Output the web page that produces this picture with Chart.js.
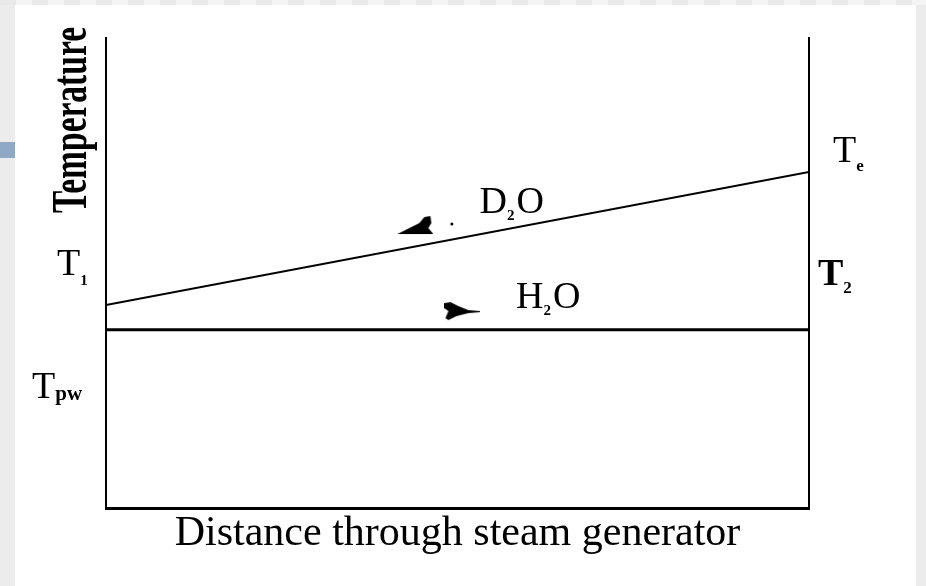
<!DOCTYPE html>
<html><head><meta charset="utf-8">
<script src="https://cdn.jsdelivr.net/npm/chart.js@4"></script>
<style>
html,body{margin:0;padding:0;width:926px;height:586px;overflow:hidden;background:#ececec;}
#panel{position:absolute;left:15px;top:5px;width:901px;height:581px;background:#fff;}
#topstrip{position:absolute;left:0;top:0;width:926px;height:5px;background:repeating-linear-gradient(90deg,#e9e9e9 0 16px,#f4f4f4 16px 32px);}
#tab{position:absolute;left:0;top:142px;width:15px;height:16px;background:#8ea8c6;}
#wrap{position:absolute;left:0;top:0;width:926px;height:586px;}
</style></head>
<body>
<div id="topstrip"></div><div id="panel"></div><div id="tab"></div>
<div id="wrap"><canvas id="c" width="926" height="586"></canvas></div>
<script>
// ---- data ----
const distance = [0, 1];                 // normalised distance through steam generator
const d2oTemp = [43.2, 71.5];            // D2O (primary) temperature
const h2oTemp = [37.9, 37.9];            // H2O (boiling) temperature
const leftTickValues = [52.2, 26.0];
const leftTickLabels = [['T', '1'], ['T', 'pw']];
const rightTickValues = [76.2, 50.1];
const rightTickLabels = [['T', 'e'], ['T', '2']];
const seriesLabels = [['D', '2', 'O'], ['H', '2', 'O']];
const seriesLabelX = [0.577, 0.629];
const seriesLabelY = [65.4, 45.3];
const flowArrowX = [0.440, 0.507];
const flowArrowY = [60.2, 41.9];
const dotX = [0.492];
const dotY = [60.4];
const xTitle = 'Distance through steam generator';
const yTitle = 'Temperature';

// ---- styles ----
const SERIF = '"Liberation Serif", "Times New Roman", serif';
const leftTickStyle = [
  {x: -49, sub: 'bold 15px ' + SERIF, dy: 10},
  {x: -74, sub: 'bold 21px ' + SERIF, dy: 2}
];
const rightTickStyle = [
  {x: 24, sub: 'bold 17px ' + SERIF, dy: 9},
  {x: 9, sub: 'bold 17px ' + SERIF, dy: 8, bold: true}
];

function arrowCanvas(dir) {
  const c = document.createElement('canvas');
  c.width = 36; c.height = 20;
  const g = c.getContext('2d');
  g.fillStyle = '#000';
  g.beginPath();
  if (dir === 'left') {
    g.moveTo(0, 19); g.lineTo(22, 8); g.lineTo(27, 2); g.lineTo(33, 1);
    g.lineTo(34, 8); g.lineTo(31, 13); g.lineTo(36, 19);
  } else {
    g.moveTo(0, 2); g.lineTo(6, 1); g.lineTo(14, 5); g.lineTo(24, 9);
    g.lineTo(36, 10); g.lineTo(36, 11); g.lineTo(24, 12); g.lineTo(12, 15);
    g.lineTo(4, 19); g.lineTo(1, 17); g.lineTo(4, 10); g.lineTo(0, 7);
  }
  g.closePath(); g.fill();
  return c;
}

function drawSub(ctx, parts, x, base, mainFont, subFont, dy, align) {
  ctx.font = mainFont;
  const w1 = ctx.measureText(parts[0]).width;
  ctx.font = subFont;
  const w2 = ctx.measureText(parts[1]).width;
  ctx.font = mainFont;
  const w3 = parts[2] ? ctx.measureText(parts[2]).width : 0;
  const total = w1 + w2 + w3 + 2;
  let sx = x;
  if (align === 'center') sx = x - total / 2;
  ctx.textAlign = 'left';
  ctx.textBaseline = 'alphabetic';
  ctx.font = mainFont; ctx.fillText(parts[0], sx, base);
  ctx.font = subFont; ctx.fillText(parts[1], sx + w1, base + dy);
  if (parts[2]) { ctx.font = mainFont; ctx.fillText(parts[2], sx + w1 + w2 + 2, base); }
}

const textPlugin = {
  id: 'textLabels',
  afterDraw(chart) {
    const {ctx, chartArea: a, scales: {x, y}} = chart;
    ctx.save();
    ctx.fillStyle = '#000';
    const mainFont = '38px ' + SERIF;
    const cap = 12.5;
    leftTickValues.forEach((v, i) => {
      const st = leftTickStyle[i];
      drawSub(ctx, leftTickLabels[i], a.left + st.x, y.getPixelForValue(v) + cap, mainFont, st.sub, st.dy, 'left');
    });
    rightTickValues.forEach((v, i) => {
      const st = rightTickStyle[i];
      drawSub(ctx, rightTickLabels[i], a.right + st.x, y.getPixelForValue(v) + cap,
        (st.bold ? 'bold ' : '') + mainFont, st.sub, st.dy, 'left');
    });
    seriesLabels.forEach((p, i) => {
      drawSub(ctx, p, x.getPixelForValue(seriesLabelX[i]), y.getPixelForValue(seriesLabelY[i]) + cap,
        mainFont, 'bold 15px ' + SERIF, 7, 'center');
    });
    // x title
    ctx.font = '42px ' + SERIF;
    ctx.textAlign = 'center';
    ctx.textBaseline = 'alphabetic';
    ctx.fillText(xTitle, (a.left + a.right) / 2, a.bottom + 37);
    // y title (rotated, bold, condensed)
    ctx.save();
    ctx.translate(a.left - 33, a.top + 82);
    ctx.rotate(-Math.PI / 2);
    ctx.scale(0.67, 1);
    ctx.font = 'bold 50px ' + SERIF;
    ctx.textBaseline = 'middle';
    ctx.textAlign = 'center';
    ctx.fillText(yTitle, 0, 0);
    ctx.restore();
    ctx.restore();
  }
};

const toPts = (xs, ys) => xs.map((v, i) => ({x: v, y: ys[i]}));

new Chart(document.getElementById('c'), {
  type: 'line',
  data: {
    datasets: [
      {label: 'D2O', data: toPts(distance, d2oTemp), borderColor: '#000', borderWidth: 2, pointRadius: 0, fill: false},
      {label: 'H2O', data: toPts(distance, h2oTemp), borderColor: '#000', borderWidth: 3, pointRadius: 0, fill: false},
      {label: 'flow', data: toPts(flowArrowX, flowArrowY), showLine: false,
       pointStyle: [arrowCanvas('left'), arrowCanvas('right')], pointRadius: 10},
      {label: 'dot', data: toPts(dotX, dotY), showLine: false, pointStyle: 'circle',
       pointRadius: 1.5, backgroundColor: '#000', borderColor: '#000', borderWidth: 0}
    ]
  },
  options: {
    responsive: false,
    animation: false,
    devicePixelRatio: 1,
    layout: {padding: {left: 106, right: 117, top: 38, bottom: 78}},
    plugins: {legend: {display: false}, tooltip: {enabled: false}},
    scales: {
      x: {type: 'linear', min: 0, max: 1, ticks: {display: false},
          grid: {display: false, drawTicks: false}, border: {display: true, color: '#000', width: 3}},
      y: {type: 'linear', min: 0, max: 100, ticks: {display: false},
          grid: {display: false, drawTicks: false}, border: {display: true, color: '#000', width: 2}},
      y2: {type: 'linear', position: 'right', display: true, min: 0, max: 100, ticks: {display: false},
          grid: {display: false, drawTicks: false}, border: {display: true, color: '#000', width: 2}}
    }
  },
  plugins: [textPlugin]
});
</script>
</body></html>
